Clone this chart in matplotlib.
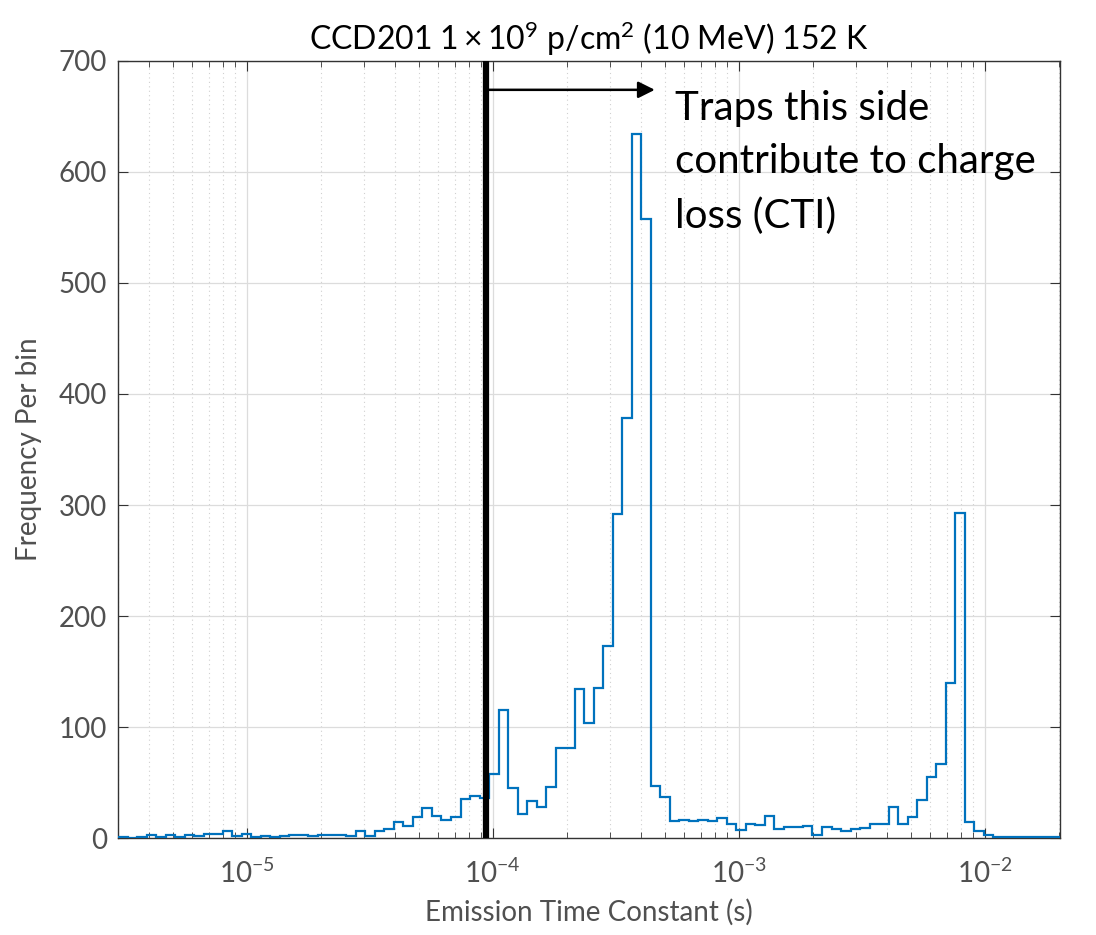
import numpy as np
import matplotlib
matplotlib.use("Agg")
import matplotlib.pyplot as plt
from matplotlib.ticker import LogLocator, NullFormatter, MultipleLocator

plt.rcParams['font.family'] = ['Lato', 'DejaVu Sans']
plt.rcParams['mathtext.fontset'] = 'custom'
plt.rcParams['mathtext.rm'] = 'Lato'
plt.rcParams['mathtext.it'] = 'Lato:italic'

# histogram counts per log-spaced bin
counts = [1, 0, 1, 3, 1, 3, 1, 3, 2, 4,
          4, 6, 2, 4, 1, 2, 1, 2, 3, 3,
          2, 3, 3, 3, 2, 6, 2, 6, 8, 14,
          11, 19, 27, 20, 16, 19, 35, 38, 36, 58,
          115, 45, 22, 33, 28, 46, 81, 81, 134, 104,
          135, 173, 292, 378, 634, 558, 47, 37, 15, 16,
          15, 16, 15, 18, 13, 7, 13, 12, 20, 8,
          10, 10, 11, 3, 10, 8, 6, 8, 9, 13,
          13, 28, 13, 19, 34, 55, 67, 140, 293, 14,
          6, 3, 1, 1, 1, 1, 1, 1, 1]
tau_min = 3.0e-6
tau_max = 2.02e-2
edges = np.logspace(np.log10(tau_min), np.log10(tau_max), len(counts) + 1)

cut_tau = 9.4e-5      # vertical marker
arrow_end = 4.56e-4
arrow_y = 674

fig = plt.figure(figsize=(10.96, 9.35), dpi=100)
ax = fig.add_axes([0.1077, 0.1037, 0.8593, 0.8311])

ax.stairs(counts, edges, color='#0072BD', linewidth=1.6, zorder=3)

ax.set_xscale('log')
ax.set_xlim(tau_min, tau_max)
ax.set_ylim(0, 700)
ax.yaxis.set_major_locator(MultipleLocator(100))
ax.xaxis.set_major_locator(LogLocator(base=10, numticks=10))
ax.xaxis.set_minor_locator(LogLocator(base=10, subs=np.arange(2, 10), numticks=20))
ax.xaxis.set_minor_formatter(NullFormatter())

ax.grid(True, which='major', color='#dcdcdc', linewidth=0.9, zorder=0)
ax.grid(True, which='minor', axis='x', color='#d0d0d0', linestyle=(0, (1, 3)), linewidth=0.8, zorder=0)
ax.set_axisbelow(True)

for s in ax.spines.values():
    s.set_color('#333333')
    s.set_linewidth(1.0)
ax.tick_params(which='both', direction='in', top=True, right=True, colors='#333333',
               labelcolor='#505050', labelsize=20)
ax.tick_params(which='major', length=7)
ax.tick_params(which='minor', length=4)
ax.tick_params(axis='x', pad=15)
ax.tick_params(axis='y', pad=8)

ax.set_xlabel('Emission Time Constant (s)', fontsize=20, color='#505050', labelpad=8)
ax.set_ylabel('Frequency Per bin', fontsize=20, color='#505050', labelpad=12)
ax.set_title(r'CCD201 $1\times10^9$ p/cm$^2$ (10 MeV) 152 K', fontsize=23, pad=8)

# threshold line and arrow
ax.axvline(cut_tau, color='black', linewidth=4.5, zorder=4)
ax.annotate('', xy=(arrow_end, arrow_y), xytext=(cut_tau, arrow_y),
            arrowprops=dict(arrowstyle='-|>', color='black', lw=1.8, mutation_scale=25,
                            shrinkA=0, shrinkB=0), zorder=5)
ax.text(5.5e-4, 674, 'Traps this side\ncontribute to charge\nloss (CTI)',
        fontsize=29, va='top', ha='left', linespacing=1.55, zorder=6)

fig.savefig('out.png', dpi=100)
